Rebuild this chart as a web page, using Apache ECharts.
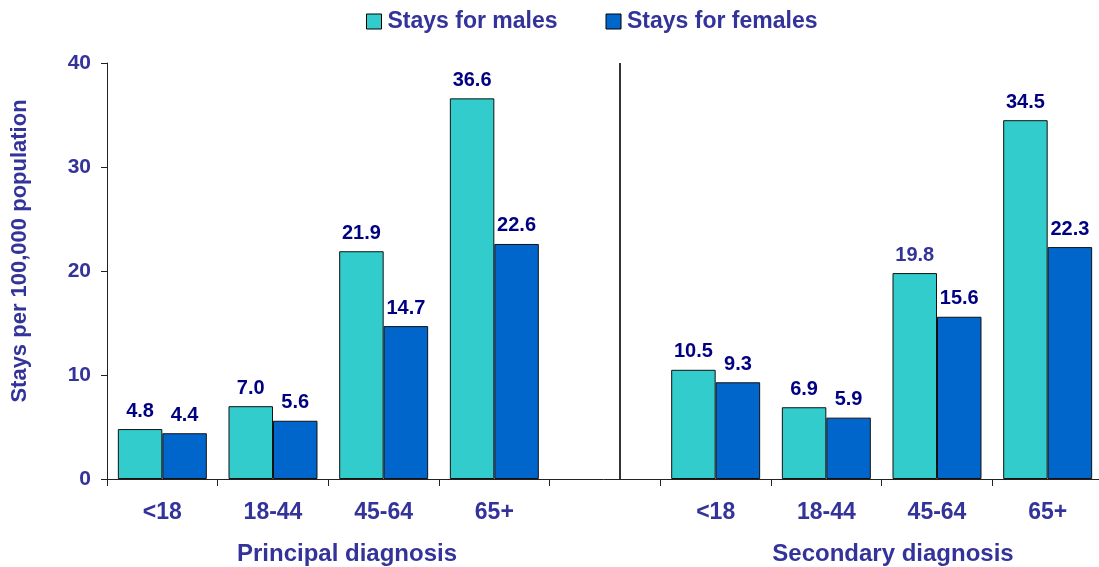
<!DOCTYPE html>
<html>
<head>
<meta charset="utf-8">
<script src="https://cdn.jsdelivr.net/npm/echarts@6/dist/echarts.min.js"></script>
<style>
html,body{margin:0;padding:0;background:#fff;}
#chart{width:1099px;height:567px;}
</style>
</head>
<body>
<div id="chart"></div>
<script>
// ---- data ----
const categories = ['<18', '18-44', '45-64', '65+', '', '<18', '18-44', '45-64', '65+'];
const groupTitles = ['Principal diagnosis', 'Secondary diagnosis'];
const seriesNames = ['Stays for males', 'Stays for females'];
const malesStays = [4.8, 7.0, 21.9, 36.6, null, 10.5, 6.9, 19.8, 34.5];
const femalesStays = [4.4, 5.6, 14.7, 22.6, null, 9.3, 5.9, 15.6, 22.3];
const yTicks = [0, 10, 20, 30, 40];
const dividerAt = 4.63; // in category units along the x axis

const TXT = '#333399';
const LBL = '#000080';
const FONT = 'Liberation Sans, Arial, sans-serif';

const chart = echarts.init(document.getElementById('chart'), null, {renderer: 'canvas'});

function labelCfg(color) {
  return {
    show: true, position: 'top', distance: 8,
    color: color, fontFamily: FONT, fontWeight: 'bold', fontSize: 20,
    formatter: p => (p.value == null ? '' : Number(p.value).toFixed(1))
  };
}

const option = {
  animation: false,
  backgroundColor: '#fff',
  title: [
    {text: groupTitles[0], left: 342, top: 537, textAlign: 'center',
     textStyle: {color: TXT, fontFamily: FONT, fontWeight: 'bold', fontSize: 24}},
    {text: groupTitles[1], left: 888, top: 537, textAlign: 'center',
     textStyle: {color: TXT, fontFamily: FONT, fontWeight: 'bold', fontSize: 24}}
  ],
  legend: {
    data: seriesNames,
    left: 361, top: 5,
    itemWidth: 15, itemHeight: 15, itemGap: 48,
    icon: 'rect',
    itemStyle: {borderColor: '#000', borderWidth: 1},
    textStyle: {color: TXT, fontFamily: FONT, fontWeight: 'bold', fontSize: 23, padding: [0, 0, 0, 1]}
  },
  grid: {left: 107, width: 996, top: 63, bottom: 88, containLabel: false, outerBoundsMode: 'none'},
  xAxis: [
    {
      type: 'category', data: categories,
      axisLine: {lineStyle: {color: '#222', width: 1}},
      axisTick: {show: true, length: 7, lineStyle: {color: '#222'}},
      axisLabel: {color: TXT, fontFamily: FONT, fontWeight: 'bold', fontSize: 23, margin: 22, interval: 0},
      splitLine: {show: false}
    },
    {
      type: 'value', min: 0, max: categories.length, show: false, gridIndex: 0,
      splitLine: {show: false}
    }
  ],
  yAxis: {
    type: 'value', min: yTicks[0], max: yTicks[yTicks.length - 1], interval: 10,
    name: 'Stays per 100,000 population',
    nameLocation: 'middle', nameGap: 76, nameRotate: 90,
    nameTextStyle: {color: TXT, fontFamily: FONT, fontWeight: 'bold', fontSize: 22, padding: [0, 0, 0, 40]},
    axisLine: {show: true, lineStyle: {color: '#222', width: 1}},
    axisTick: {show: true, length: 6, lineStyle: {color: '#222'}},
    axisLabel: {color: TXT, fontFamily: FONT, fontWeight: 'bold', fontSize: 21, margin: 16},
    splitLine: {show: false}
  },
  series: [
    {
      name: seriesNames[0], type: 'bar', data: malesStays.map((v, i) =>
        (i === 7 ? {value: v, label: {color: TXT}} : v)),
      barGap: '0%', barCategoryGap: '19.6%',
      itemStyle: {color: '#33CCCC', borderColor: '#111', borderWidth: 1},
      label: labelCfg(LBL)
    },
    {
      name: seriesNames[1], type: 'bar', data: femalesStays,
      barGap: '0%', barCategoryGap: '19.6%',
      itemStyle: {color: '#0066CC', borderColor: '#111', borderWidth: 1},
      label: labelCfg(LBL)
    },
    {
      name: 'divider', type: 'line', xAxisIndex: 1, data: [],
      silent: true,
      markLine: {
        symbol: 'none', silent: true,
        label: {show: false},
        lineStyle: {color: '#333', width: 2, type: 'solid'},
        data: [{xAxis: dividerAt}]
      }
    }
  ]
};
chart.setOption(option);
</script>
</body>
</html>
